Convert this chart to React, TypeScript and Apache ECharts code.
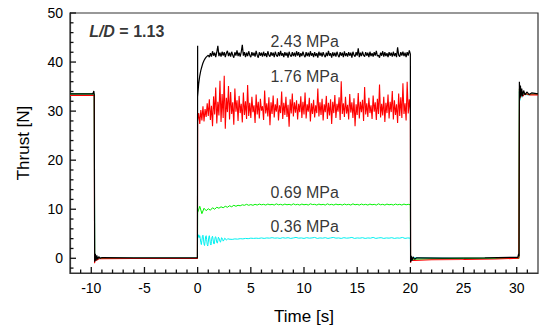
import React, { useEffect, useRef } from 'react';
import * as echarts from 'echarts';

// ---- axes ----
const X_MIN = -12;
const X_MAX = 32;
const Y_MIN = -3;
const Y_MAX = 50;
const X_MAJOR = [-10, -5, 0, 5, 10, 15, 20, 25, 30];
const X_MINOR = [-11, -9, -8, -7, -6, -4, -3, -2, -1, 1, 2, 3, 4, 6, 7, 8, 9, 11, 12, 13, 14, 16, 17, 18, 19, 21, 22, 23, 24, 26, 27, 28, 29, 31];
const Y_MAJOR = [0, 10, 20, 30, 40, 50];
const Y_MINOR = [-2, 2, 4, 6, 8, 12, 14, 16, 18, 22, 24, 26, 28, 32, 34, 36, 38, 42, 44, 46, 48];

// ---- 2.43 MPa (black) ----
const BLACK_BEFORE = [[-12, 33.5], [-9.85, 33.5], [-9.76, 34.1], [-9.72, 33.3], [-9.68, -0.7], [-9.62, 0.9], [-9.56, -0.5], [-9.48, 0.6], [-9.4, -0.2], [-9.3, 0.3], [-9.15, 0.0], [-9.0, 0.15], [-6, 0.1], [-3, 0.1], [-0.02, 0.1], [0, 43.3]];
const BLACK_ON_DT = 0.1;
const BLACK_ON = [
  33.0, 35.6, 37.2, 38.3, 39.1, 39.8, 40.3, 40.7, 41.0, 41.2,
  41.4, 41.0, 41.8, 41.1, 42.2, 41.3, 41.9, 41.0, 42.0, 43.3,
  41.2, 41.9, 41.1, 42.1, 41.3, 42.0, 41.0, 41.8, 42.3, 41.2,
  41.9, 41.1, 42.1, 41.4, 40.9, 42.0, 41.3, 42.4, 41.2, 41.9,
  41.1, 42.1, 43.5, 41.3, 42.0, 41.0, 41.9, 41.2, 42.2, 41.4,
  41.0, 42.0, 41.3, 41.9, 41.1, 42.3, 41.4, 40.9, 42.0, 41.3,
  41.9, 41.1, 42.1, 41.2, 41.8, 41.0, 42.2, 41.4, 41.1, 42.0,
  41.3, 41.9, 41.0, 42.1, 41.4, 41.1, 42.0, 41.2, 42.3, 41.3,
  41.8, 41.0, 42.0, 41.3, 41.9, 40.9, 42.1, 41.4, 41.1, 42.0,
  41.2, 41.9, 41.1, 42.2, 41.3, 42.0, 41.0, 41.8, 41.2, 42.1,
  41.4, 41.0, 42.0, 41.2, 41.9, 41.1, 42.2, 41.3, 41.8, 41.0,
  42.0, 41.2, 41.8, 40.9, 42.1, 41.3, 41.9, 41.1, 42.0, 41.4,
  41.0, 41.9, 41.2, 42.3, 41.3, 41.8, 40.9, 42.0, 41.2, 41.9,
  41.1, 42.1, 41.4, 41.0, 42.0, 41.3, 41.9, 41.0, 42.2, 41.2,
  41.8, 41.1, 42.0, 41.3, 41.9, 40.9, 42.1, 41.4, 41.1, 42.0,
  41.3, 42.8, 41.0, 41.9, 41.2, 42.1, 41.4, 41.1, 42.0, 41.3,
  41.9, 41.0, 42.1, 41.2, 41.8, 41.1, 42.0, 41.3, 42.3, 41.2,
  41.4, 40.9, 41.9, 41.3, 42.2, 41.1, 42.0, 41.2, 41.8, 41.0,
  42.0, 41.3, 41.9, 41.1, 42.1, 41.2, 41.8, 41.0, 43.0, 41.4,
  41.1, 42.0, 41.3, 42.1, 41.2, 41.9, 41.0, 42.0, 41.3, 42.4,
  41.6,
];
const BLACK_AFTER = [[20.02, -0.8], [20.08, 0.5], [20.15, -0.5], [20.25, 0.3], [20.4, -0.2], [20.6, 0.1], [23, 0.05], [27, 0.1], [30.1, 0.2], [30.18, 0.9], [30.22, 0.4], [30.25, 36.0], [30.3, 32.8], [30.35, 35.2], [30.4, 33.0], [30.47, 34.6], [30.55, 33.1], [30.65, 34.2], [30.78, 33.3], [30.95, 33.9], [31.15, 33.4], [31.4, 33.7], [32, 33.5]];

// ---- 1.76 MPa (red) ----
const RED_BEFORE = [[-12, 33.2], [-9.72, 33.2], [-9.69, -1.0], [-9.6, 0.2], [-9.5, -0.4], [-9.3, -0.1], [-6, -0.05], [-0.02, -0.05]];
const RED_ON_DT = 0.1;
const RED_ON = [
  28.0, 29.6, 27.4, 30.2, 28.1, 31.0, 27.9, 30.4, 28.8, 31.6,
  29.0, 32.4, 28.2, 31.1, 26.9, 33.0, 29.3, 34.8, 27.5, 31.9,
  29.1, 36.2, 27.8, 33.5, 28.6, 37.2, 26.4, 32.7, 29.8, 35.1,
  28.3, 33.9, 29.4, 31.8, 27.2, 34.6, 29.9, 32.2, 28.0, 33.1,
  29.6, 31.5, 27.7, 33.8, 29.2, 32.0, 28.4, 35.3, 29.0, 31.7,
  28.6, 32.9, 29.8, 31.2, 27.6, 33.4, 29.3, 31.9, 28.5, 32.5,
  30.1, 31.0, 28.2, 34.2, 29.5, 31.6, 28.9, 32.8, 27.1, 31.8,
  29.4, 33.2, 28.7, 31.4, 29.9, 32.6, 28.1, 31.2, 29.6, 34.0,
  28.4, 31.7, 29.2, 32.9, 28.8, 31.3, 26.8, 32.4, 29.5, 33.6,
  28.9, 31.8, 29.7, 32.2, 28.3, 31.5, 29.8, 33.0, 28.6, 31.9,
  29.3, 33.8, 28.5, 31.4, 29.9, 32.7, 27.9, 31.6, 29.4, 32.3,
  28.7, 31.2, 29.6, 34.6, 28.9, 31.8, 29.2, 32.5, 28.1, 31.4,
  29.8, 33.1, 28.4, 31.7, 29.1, 32.4, 27.4, 31.9, 29.6, 33.3,
  28.6, 31.5, 29.9, 32.8, 28.2, 36.1, 29.4, 31.6, 28.8, 32.9,
  29.5, 31.3, 28.3, 33.5, 29.7, 31.8, 28.6, 32.6, 26.9, 31.4,
  29.2, 33.7, 28.5, 31.9, 29.8, 32.3, 28.0, 34.9, 29.3, 31.6,
  28.8, 32.7, 29.6, 31.2, 28.4, 33.2, 29.9, 31.8, 28.2, 32.5,
  29.4, 35.4, 28.7, 31.5, 29.1, 32.9, 27.8, 31.7, 29.6, 33.4,
  28.5, 31.9, 29.8, 34.1, 28.3, 32.2, 29.2, 31.4, 27.6, 33.6,
  29.0, 32.8, 28.6, 35.7, 29.4, 31.6, 28.1, 36.0, 29.5, 32.4,
  29.8,
];
const RED_AFTER = [[20.02, -0.9], [20.1, -0.2], [20.3, -0.45], [22, -0.3], [25, -0.25], [28, -0.15], [30.2, 0.0], [30.26, 34.8], [30.33, 32.6], [30.4, 34.0], [30.55, 33.0], [30.8, 33.6], [31.2, 33.3], [32, 33.3]];

// ---- 0.69 MPa (green) ----
const GREEN_BEFORE = [[-12, 33.5], [-9.72, 33.5], [-9.68, 0.3], [-9.5, 0.0], [-0.02, 0.0]];
const GREEN_ON_DT = 0.2;
const GREEN_ON = [
  9.3, 10.6, 9.1, 10.2, 9.7,
  10.1, 9.8, 10.3, 10.0, 10.4,
  10.2, 10.5, 10.3, 10.6, 10.4,
  10.7, 10.5, 10.8, 10.6, 10.8,
  10.7, 10.9, 10.8, 11.0, 10.8,
  10.95, 10.8, 11.0, 10.85, 11.05,
  10.9, 11.0, 10.85, 11.05, 10.9,
  11.0, 10.85, 11.1, 10.9, 11.0,
  10.85, 11.05, 10.9, 11.0, 10.85,
  11.1, 10.9, 11.0, 10.85, 11.05,
  10.9, 11.0, 10.85, 11.1, 10.95,
  11.0, 10.85, 11.05, 10.9, 11.0,
  10.85, 11.1, 10.9, 11.0, 10.85,
  11.05, 10.9, 11.0, 10.85, 11.05,
  10.9, 11.0, 10.85, 11.1, 10.9,
  11.0, 10.85, 11.05, 10.9, 11.0,
  10.85, 11.05, 10.9, 11.0, 10.85,
  11.1, 10.9, 11.0, 10.85, 11.05,
  10.9, 11.0, 10.85, 11.05, 10.9,
  11.0, 10.85, 11.05, 10.9, 11.0,
  10.9,
];
const GREEN_AFTER = [[20.02, -0.2], [25, 0.0], [30.2, 0.0], [30.25, 34.5], [30.35, 33.0], [30.6, 33.7], [31, 33.4], [32, 33.5]];

// ---- 0.36 MPa (cyan) ----
const CYAN_BEFORE = [[-12, 33.5], [-9.72, 33.5], [-9.68, -0.3], [-9.6, 0.4], [-9.45, 0.0], [-0.02, 0.0]];
const CYAN_START_DT = 0.05;
const CYAN_START = [
  4.7, 4.3, 4.8, 4.2, 4.6, 4.0, 3.2, 2.8, 3.6, 4.5,
  4.7, 3.9, 2.9, 2.6, 3.4, 4.4, 4.6, 3.8, 2.8, 2.5,
  3.3, 4.3, 4.6, 3.9, 3.0, 2.7, 3.4, 4.3, 4.5, 3.9,
  3.1, 2.9, 3.5, 4.3, 4.4, 3.9, 3.2, 3.1, 3.6, 4.3,
  4.3, 3.9, 3.4, 3.3, 3.7, 4.2, 4.2, 3.9, 3.5, 3.5,
  3.8, 4.1, 4.1, 3.9, 3.7, 3.7, 3.9, 4.0, 4.0, 3.9,
  3.9,
];
const CYAN_STEADY_T0 = 3.25;
const CYAN_STEADY_DT = 0.25;
const CYAN_STEADY = [
  3.85, 3.95, 3.9, 4.0, 3.95, 4.05, 4.0, 4.1, 4.05, 4.1,
  4.05, 4.15, 4.05, 4.15, 4.1, 4.2, 4.1, 4.15, 4.05, 4.2,
  4.1, 4.2, 4.05, 4.15, 4.25, 4.1, 4.15, 4.05, 4.2, 4.1,
  4.15, 4.25, 4.05, 4.15, 4.1, 4.2, 4.05, 4.15, 4.25, 4.1,
  4.15, 4.05, 4.2, 4.1, 4.15, 4.25, 4.05, 4.15, 4.1, 4.2,
  4.05, 4.15, 4.1, 4.25, 4.05, 4.15, 4.2, 4.05, 4.15, 4.1,
  4.2, 4.05, 4.15, 4.1, 4.25, 4.05, 4.15,
  4.1,
];
const CYAN_AFTER = [[20.02, -0.3], [20.2, 0.1], [25, 0.0], [30.2, 0.0], [30.25, 34.0], [30.3, 32.2], [30.4, 33.6], [30.5, 32.8], [30.7, 33.5], [31, 33.3], [32, 33.5]];

// ---- annotations ----
const PRESSURE_LABELS: [number, number, string][] = [
  [10.06, 44.1, '2.43 MPa'],
  [10.06, 37.0, '1.76 MPa'],
  [10.06, 13.5, '0.69 MPa'],
  [10.06, 6.45, '0.36 MPa'],
];
const LD_LABEL: [number, number][] = [[-10.2, 46.2]];

// ---- layout / style ----
const W = 539;
const H = 330;
const GRID = { left: 70, right: 1, top: 13, bottom: 55 };
const MAJOR_LEN = 6;
const MINOR_LEN = 3.5;
const FONT = '"Liberation Sans", Arial, Helvetica, sans-serif';
const AXIS_COLOR = '#111';
const TEXT_COLOR = '#000';

function seg(t0: number, dt: number, vals: number[]) {
  return vals.map((v, i) => [Math.round((t0 + i * dt) * 1000) / 1000, v]);
}

function lineSeries(name: string, color: string, data: any[], width = 1) {
  return {
    name,
    type: 'line',
    data,
    xAxisIndex: 0,
    yAxisIndex: 0,
    showSymbol: false,
    symbol: 'none',
    silent: true,
    lineStyle: { color, width },
  };
}

export default function App() {
  const ref = useRef<HTMLDivElement>(null);
  useEffect(() => {
    if (!ref.current) return;
    const chart = echarts.init(ref.current, undefined, { renderer: 'svg' });

    const blackData = [...BLACK_BEFORE, ...seg(0, BLACK_ON_DT, BLACK_ON), ...BLACK_AFTER];
    const redData = [...RED_BEFORE, ...seg(0, RED_ON_DT, RED_ON), ...RED_AFTER];
    const greenData = [...GREEN_BEFORE, ...seg(0, GREEN_ON_DT, GREEN_ON), ...GREEN_AFTER];
    const cyanData = [
      ...CYAN_BEFORE,
      ...seg(0, CYAN_START_DT, CYAN_START),
      ...seg(CYAN_STEADY_T0, CYAN_STEADY_DT, CYAN_STEADY),
      ...CYAN_AFTER,
    ];

    const option: any = {
      animation: false,
      backgroundColor: '#fff',
      grid: {
        ...GRID,
        show: true,
        borderColor: '#333',
        borderWidth: 1.2,
      },
      xAxis: {
        type: 'value',
        min: X_MIN,
        max: X_MAX,
        splitNumber: 9,
        position: 'bottom',
        name: 'Time [s]',
        nameLocation: 'middle',
        nameGap: 35,
        nameTextStyle: { fontSize: 17, color: TEXT_COLOR, fontFamily: FONT },
        axisLine: { show: true, onZero: false, lineStyle: { color: '#333', width: 1.2 } },
        axisTick: { show: false },
        axisLabel: { showMinLabel: false, showMaxLabel: false, fontSize: 14, color: TEXT_COLOR, fontFamily: FONT, margin: 8 },
        splitLine: { show: false },
      },
      yAxis: {
        type: 'value',
        min: Y_MIN,
        max: Y_MAX,
        splitNumber: 5,
        position: 'left',
        name: 'Thrust [N]',
        nameLocation: 'middle',
        nameGap: 38,
        nameTextStyle: { fontSize: 17, color: TEXT_COLOR, fontFamily: FONT },
        axisLine: { show: true, onZero: false, lineStyle: { color: '#333', width: 1.2 } },
        axisTick: { show: false },
        axisLabel: { showMinLabel: false, fontSize: 14, color: TEXT_COLOR, fontFamily: FONT, margin: 7 },
        splitLine: { show: false },
      },
      series: [
        lineSeries('0.36 MPa', '#00f0f0', cyanData),
        lineSeries('0.69 MPa', '#00f000', greenData),
        lineSeries('1.76 MPa', '#ff0000', redData, 1.1),
        lineSeries('2.43 MPa', '#000000', blackData, 1.2),
        {
          type: 'scatter',
          data: PRESSURE_LABELS,
          symbolSize: 0,
          silent: true,
          xAxisIndex: 0,
          yAxisIndex: 0,
          label: {
            show: true,
            position: 'inside',
            formatter: (p: any) => p.value[2],
            fontSize: 16,
            color: TEXT_COLOR,
            fontFamily: FONT,
          },
        },
        {
          type: 'scatter',
          data: LD_LABEL,
          symbolSize: 0,
          silent: true,
          xAxisIndex: 0,
          yAxisIndex: 0,
          label: {
            show: true,
            position: 'right',
            distance: 0,
            formatter: '{i|L/D}{b| = 1.13}',
            rich: {
              i: { fontSize: 16, fontWeight: 'bold', fontStyle: 'italic', color: TEXT_COLOR, fontFamily: FONT },
              b: { fontSize: 16, fontWeight: 'bold', color: TEXT_COLOR, fontFamily: FONT },
            },
          },
        },
      ],
    };
    chart.setOption(option);

    // inward tick marks, placed with the chart's own pixel conversion
    const toPx = (x: number, y: number) => chart.convertToPixel({ gridIndex: 0 }, [x, y]) as number[];
    const tickEls: any[] = [];
    const addX = (v: number, len: number) => {
      const p = toPx(v, Y_MIN);
      tickEls.push({ type: 'line', shape: { x1: p[0], y1: p[1], x2: p[0], y2: p[1] - len }, style: { stroke: AXIS_COLOR, lineWidth: 1.3 }, silent: true, z: 10 });
    };
    const addY = (v: number, len: number) => {
      const p = toPx(X_MIN, v);
      tickEls.push({ type: 'line', shape: { x1: p[0], y1: p[1], x2: p[0] + len, y2: p[1] }, style: { stroke: AXIS_COLOR, lineWidth: 1.3 }, silent: true, z: 10 });
    };
    X_MAJOR.forEach((v) => addX(v, MAJOR_LEN));
    X_MINOR.forEach((v) => addX(v, MINOR_LEN));
    Y_MAJOR.forEach((v) => addY(v, MAJOR_LEN));
    Y_MINOR.forEach((v) => addY(v, MINOR_LEN));
    chart.setOption({ graphic: { elements: tickEls } });

    return () => chart.dispose();
  }, []);

  return (
    <div
      ref={ref}
      style={{ position: 'absolute', left: 0, top: 0, width: W, height: H, background: '#fff' }}
    />
  );
}
